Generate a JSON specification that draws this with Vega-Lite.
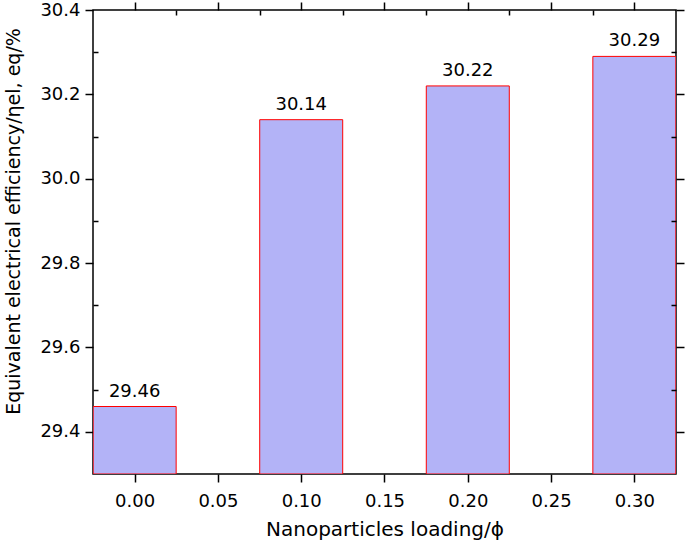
{
  "$schema": "https://vega.github.io/schema/vega-lite/v6.json",
  "width": 583,
  "height": 464,
  "autosize": {"type": "none"},
  "padding": {"left": 93, "top": 10, "right": 9, "bottom": 70},
  "background": "white",
  "config": {
    "font": "DejaVu Sans",
    "view": {"stroke": "black", "strokeWidth": 1.5},
    "axis": {"grid": false, "domain": false, "tickColor": "black", "tickWidth": 1.5, "labelColor": "black", "titleColor": "black", "labelFont": "DejaVu Sans", "titleFont": "DejaVu Sans", "titleFontWeight": "normal"}
  },
  "data": {"values": [
    {"loading": 0.0, "efficiency": 29.46},
    {"loading": 0.1, "efficiency": 30.14},
    {"loading": 0.2, "efficiency": 30.22},
    {"loading": 0.3, "efficiency": 30.29}
  ]},
  "layer": [
    {
      "mark": {"type": "bar", "size": 83, "fill": "#b3b3f7", "stroke": "#ff0000", "strokeWidth": 1, "clip": true},
      "encoding": {
        "x": {"field": "loading", "type": "quantitative",
              "scale": {"domain": [-0.025, 0.325], "nice": false, "zero": false, "padding": 0},
              "axis": {"orient": "bottom", "values": [0, 0.05, 0.1, 0.15, 0.2, 0.25, 0.3],
                       "format": ".2f", "tickSize": 8,
                       "labelFontSize": 18, "labelPadding": 10, "title": "Nanoparticles loading/ϕ", "titleFontSize": 20, "titlePadding": 9}},
        "y": {"field": "efficiency", "type": "quantitative",
              "scale": {"domain": [29.3, 30.4], "nice": false, "zero": false, "padding": 0},
              "axis": {"orient": "left", "values": [29.4, 29.6, 29.8, 30.0, 30.2, 30.4],
                       "format": ".1f", "tickSize": 8,
                       "labelFontSize": 18, "labelPadding": 5, "title": "Equivalent electrical efficiency/ηel, eq/%", "titleFontSize": 19, "titlePadding": 16, "titleY": 211}},
        "y2": {"datum": 29.3}
      }
    },
    {
      "mark": {"type": "text", "dy": -10, "baseline": "alphabetic", "fontSize": 18, "color": "black", "font": "DejaVu Sans"},
      "encoding": {
        "x": {"field": "loading", "type": "quantitative", "axis": {"orient": "top", "values": [0, 0.05, 0.1, 0.15, 0.2, 0.25, 0.3], "labels": false, "title": null, "tickSize": 8}},
        "y": {"field": "efficiency", "type": "quantitative", "axis": {"orient": "right", "values": [29.4, 29.6, 29.8, 30.0, 30.2, 30.4], "labels": false, "title": null, "tickSize": 8}},
        "text": {"field": "efficiency", "type": "quantitative", "format": ".2f"}
      }
    },
    {
      "mark": {"type": "point", "opacity": 0},
      "encoding": {
        "x": {"field": "loading", "type": "quantitative", "axis": {"orient": "top", "zindex": 2, "values": [0.025, 0.075, 0.125, 0.175, 0.225, 0.275], "labels": false, "title": null, "tickSize": -5}},
        "y": {"field": "efficiency", "type": "quantitative", "axis": {"orient": "left", "zindex": 2, "values": [29.5, 29.7, 29.9, 30.1, 30.3], "labels": false, "title": null, "tickSize": -5}}
      }
    },
    {
      "mark": {"type": "point", "opacity": 0},
      "encoding": {
        "x": {"field": "loading", "type": "quantitative", "axis": null},
        "y": {"field": "efficiency", "type": "quantitative", "axis": {"orient": "right", "zindex": 2, "values": [29.5, 29.7, 29.9, 30.1, 30.3], "labels": false, "title": null, "tickSize": -5}}
      }
    }
  ],
  "resolve": {"axis": {"x": "independent", "y": "independent"}}
}
